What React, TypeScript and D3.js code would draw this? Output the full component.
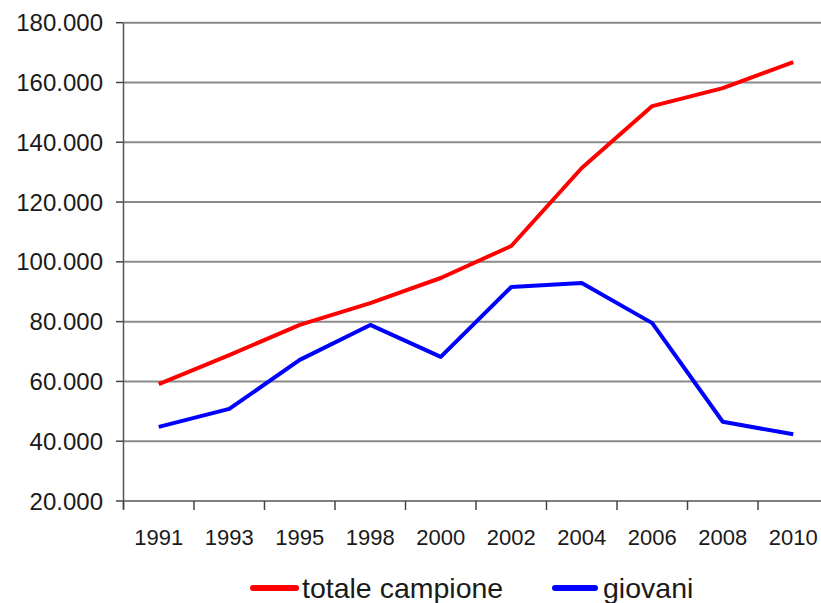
import React from "react";
import * as d3 from "d3";

const years = ["1991", "1993", "1995", "1998", "2000", "2002", "2004", "2006", "2008", "2010"];
const totale = [59.1, 68.8, 78.9, 86.2, 94.6, 105.3, 131.4, 152.1, 158.1, 166.8];
const giovani = [44.8, 50.8, 67.2, 78.9, 68.2, 91.6, 92.9, 79.5, 46.5, 42.3];
const yTicks = [20, 40, 60, 80, 100, 120, 140, 160, 180];
const seriesNames = ["totale campione", "giovani"];
const seriesColors = ["#ff0000", "#0000ff"];

export default function App() {
  const W = 821, H = 603;
  const left = 123.5, right = 828.5, top = 22.7, bottom = 501;
  const x = d3.scaleBand<string>().domain(years).range([left, right]);
  const y = d3.scaleLinear().domain([20, 180]).range([bottom, top]);
  const line = d3.line<number>()
    .x((_, i) => (x(years[i]) as number) + x.bandwidth() / 2)
    .y((d) => y(d));
  const fmt = (v: number) => (v === 0 ? "0" : d3.format(",")(v * 1000).replace(/,/g, "."));
  const font = "'Liberation Sans', Arial, sans-serif";
  const series = [totale, giovani];
  return (
    <svg width={W} height={H} style={{ position: "absolute", left: 0, top: 0 }}>
      <rect width={W} height={H} fill="#fff" />
      {yTicks.map((t) => (
        <g key={t}>
          {t > 20 && (
            <line x1={left} x2={W} y1={y(t)} y2={y(t)} stroke="#8a8a8a" strokeWidth={2} />
          )}
          <line x1={116} x2={left} y1={y(t)} y2={y(t)} stroke="#444" strokeWidth={1.5} />
          <text x={103} y={y(t)} dy="0.36em" textAnchor="end" fontFamily={font} fontSize={24} fill="#1a1a1a">
            {fmt(t)}
          </text>
        </g>
      ))}
      <line x1={left} x2={W} y1={bottom} y2={bottom} stroke="#555" strokeWidth={1.5} />
      <line x1={left} x2={left} y1={top} y2={bottom + 8} stroke="#555" strokeWidth={1.5} />
      {years.map((yr) => (
        <g key={yr}>
          <line x1={x(yr) as number} x2={x(yr) as number} y1={bottom} y2={bottom + 9} stroke="#444" strokeWidth={1.5} />
          <text x={(x(yr) as number) + x.bandwidth() / 2} y={537} dy="0.36em" textAnchor="middle" fontFamily={font} fontSize={22} fill="#1a1a1a">
            {yr}
          </text>
        </g>
      ))}
      {series.map((s, i) => (
        <path key={i} d={line(s) as string} fill="none" stroke={seriesColors[i]} strokeWidth={4} strokeLinejoin="round" />
      ))}
      {[253, 555].map((lx, i) => (
        <g key={i}>
          <line x1={lx} x2={lx + (i === 0 ? 43 : 40)} y1={588} y2={588} stroke={seriesColors[i]} strokeWidth={6} strokeLinecap="round" />
          <text x={i === 0 ? 302 : 603} y={588} dy="0.36em" fontFamily={font} fontSize={28.5} fill="#1a1a1a">
            {seriesNames[i]}
          </text>
        </g>
      ))}
    </svg>
  );
}
